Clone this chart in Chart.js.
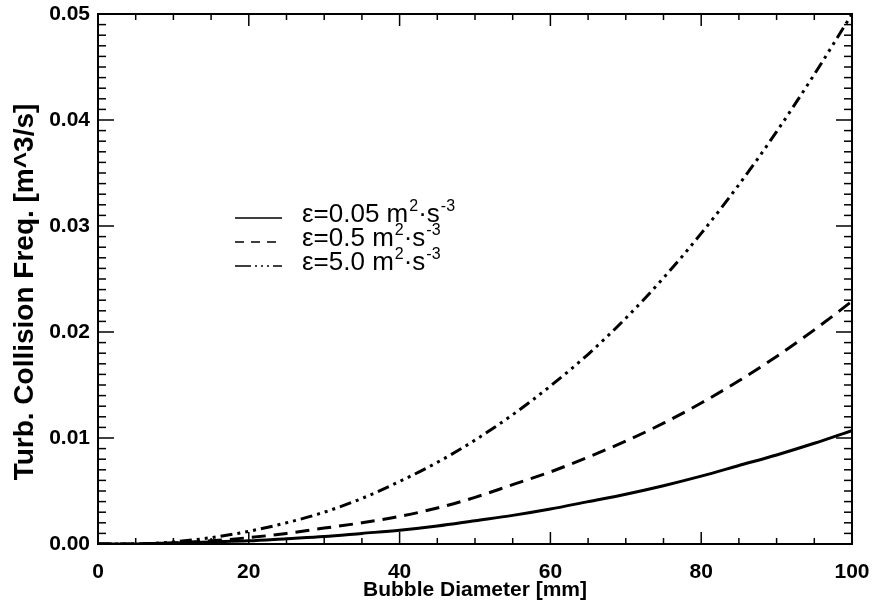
<!DOCTYPE html>
<html>
<head>
<meta charset="utf-8">
<title>Turbulent collision frequency</title>
<script src="https://cdn.jsdelivr.net/npm/chart.js@4.4.1/dist/chart.umd.min.js"></script>
<style>
  body { margin: 0; background: #fff; }
  #wrap { width: 874px; height: 603px; }
</style>
</head>
<body>
<div id="wrap"><canvas id="myChart" width="874" height="603"></canvas></div>
<script>
// bubble diameter [mm]
const diameters = [0, 5, 10, 15, 20, 25, 30, 35, 40, 45, 50, 55, 60, 65, 70, 75, 80, 85, 90, 95, 100];

// collision frequency [m^3/s]
const eps005 = [0, 0, 0.0001, 0.0002, 0.0003, 0.0005, 0.0007, 0.0010, 0.0013, 0.0017, 0.0022,
                0.0027, 0.0033, 0.0040, 0.0047, 0.0055, 0.0064, 0.0074, 0.0084, 0.0095, 0.0107];
const eps05 = [0, 0, 0.0001, 0.0003, 0.0006, 0.0010, 0.0015, 0.0020, 0.0026, 0.0034, 0.0044,
               0.0056, 0.0068, 0.0082, 0.0097, 0.0114, 0.0133, 0.0154, 0.0177, 0.0202, 0.0229];
const eps50 = [0, 0, 0.0002, 0.0006, 0.0012, 0.0020, 0.0030, 0.0043, 0.0059, 0.0077, 0.0098,
               0.0122, 0.0149, 0.0179, 0.0213, 0.0251, 0.0293, 0.0339, 0.0389, 0.0443, 0.0500];

const legendValues = ['0.05', '0.5', '5.0'];
const xMajor = [0, 20, 40, 60, 80, 100];
const yMajor = [0, 0.01, 0.02, 0.03, 0.04, 0.05];
const yTitle = 'Turb. Collision Freq. [m^3/s]';

const FONT = "'Liberation Sans', Arial, Helvetica, sans-serif";
const dashes = [[], [14, 8], [12, 5, 3, 5, 3, 5, 3, 5]];
const legendDashes = [[], [9, 7], [16, 4, 2, 4, 2, 4, 2, 4]];

function toPoints(ys) {
    return diameters.map((d, i) => ({ x: d, y: ys[i] }));
}

function strokeLine(ctx, x1, y1, x2, y2) {
    ctx.beginPath();
    ctx.moveTo(x1, y1);
    ctx.lineTo(x2, y2);
    ctx.stroke();
}

// frame with inward ticks on all four sides, the y title and the legend
const framePlugin = {
    id: 'frame',
    afterDatasetsDraw(chart) {
        const { ctx, chartArea: a, scales: { x, y } } = chart;
        ctx.save();
        ctx.strokeStyle = '#000';
        ctx.lineWidth = 1.5;
        for (let v = 0; v <= 100; v += 5) {
            const px = x.getPixelForValue(v);
            const len = xMajor.includes(v) ? 12 : 6;
            strokeLine(ctx, px, a.bottom, px, a.bottom - len);
            strokeLine(ctx, px, a.top, px, a.top + len);
        }
        for (let i = 0; i <= 50; i++) {
            const py = y.getPixelForValue(i / 1000);
            const len = i % 10 === 0 ? 16 : 8;
            strokeLine(ctx, a.left, py, a.left + len, py);
            strokeLine(ctx, a.right, py, a.right - len, py);
        }
        ctx.lineWidth = 2;
        ctx.strokeRect(a.left, a.top, a.right - a.left, a.bottom - a.top);

        // y axis title
        ctx.fillStyle = '#000';
        ctx.save();
        ctx.translate(33, 292);
        ctx.rotate(-Math.PI / 2);
        ctx.font = 'bold 28px ' + FONT;
        ctx.textAlign = 'center';
        ctx.textBaseline = 'alphabetic';
        ctx.fillText(yTitle, 0, 0);
        ctx.restore();

        // legend
        const rows = [218, 242, 266];
        ctx.textBaseline = 'alphabetic';
        ctx.textAlign = 'left';
        legendValues.forEach((val, i) => {
            const ly = rows[i];
            ctx.lineWidth = 1.5;
            ctx.setLineDash(legendDashes[i]);
            strokeLine(ctx, 235, ly, 282, ly);
            ctx.setLineDash([]);
            let tx = 302;
            const base = ly + 4;
            ctx.font = '26px ' + FONT;
            const t1 = '\u03b5=' + val + ' m';
            ctx.fillText(t1, tx, base);
            tx += ctx.measureText(t1).width + 1;
            ctx.font = '16px ' + FONT;
            ctx.fillText('2', tx, base - 11);
            tx += ctx.measureText('2').width;
            ctx.font = '26px ' + FONT;
            ctx.fillText('\u00b7s', tx, base);
            tx += ctx.measureText('\u00b7s').width + 1;
            ctx.font = '16px ' + FONT;
            ctx.fillText('-3', tx, base - 11);
        });
        ctx.restore();
    }
};

const ctx = document.getElementById('myChart').getContext('2d');

new Chart(ctx, {
    type: 'line',
    data: {
        datasets: [eps005, eps05, eps50].map((ys, i) => ({
            label: '\u03b5=' + legendValues[i],
            data: toPoints(ys),
            borderColor: '#000',
            borderWidth: 3,
            borderDash: dashes[i],
            pointRadius: 0,
            cubicInterpolationMode: 'monotone',
            fill: false
        }))
    },
    options: {
        responsive: false,
        animation: false,
        layout: { padding: { top: 14, right: 22, left: 0, bottom: 0 } },
        plugins: {
            legend: { display: false },
            tooltip: { enabled: false }
        },
        scales: {
            x: {
                type: 'linear',
                min: 0,
                max: 100,
                afterFit(scale) {
                    scale.height = 59;
                    scale.paddingLeft = 0;
                    scale.paddingRight = 0;
                },
                afterBuildTicks(scale) { scale.ticks = xMajor.map(v => ({ value: v })); },
                grid: { display: false, drawTicks: false },
                border: { display: false },
                ticks: {
                    padding: 16,
                    color: '#000',
                    font: { family: FONT, size: 21, weight: 'bold' },
                    maxRotation: 0
                },
                title: {
                    display: true,
                    text: 'Bubble Diameter [mm]',
                    color: '#000',
                    font: { family: FONT, size: 21, weight: 'bold' },
                    padding: { top: 0, bottom: 0 }
                }
            },
            y: {
                type: 'linear',
                min: 0,
                max: 0.05,
                afterFit(scale) {
                    scale.width = 98;
                    scale.paddingTop = 0;
                    scale.paddingBottom = 0;
                },
                afterBuildTicks(scale) { scale.ticks = yMajor.map(v => ({ value: v })); },
                grid: { display: false, drawTicks: false },
                border: { display: false },
                ticks: {
                    padding: 8,
                    color: '#000',
                    font: { family: FONT, size: 21, weight: 'bold' },
                    callback: v => v.toFixed(2)
                }
            }
        }
    },
    plugins: [framePlugin]
});
</script>
</body>
</html>
